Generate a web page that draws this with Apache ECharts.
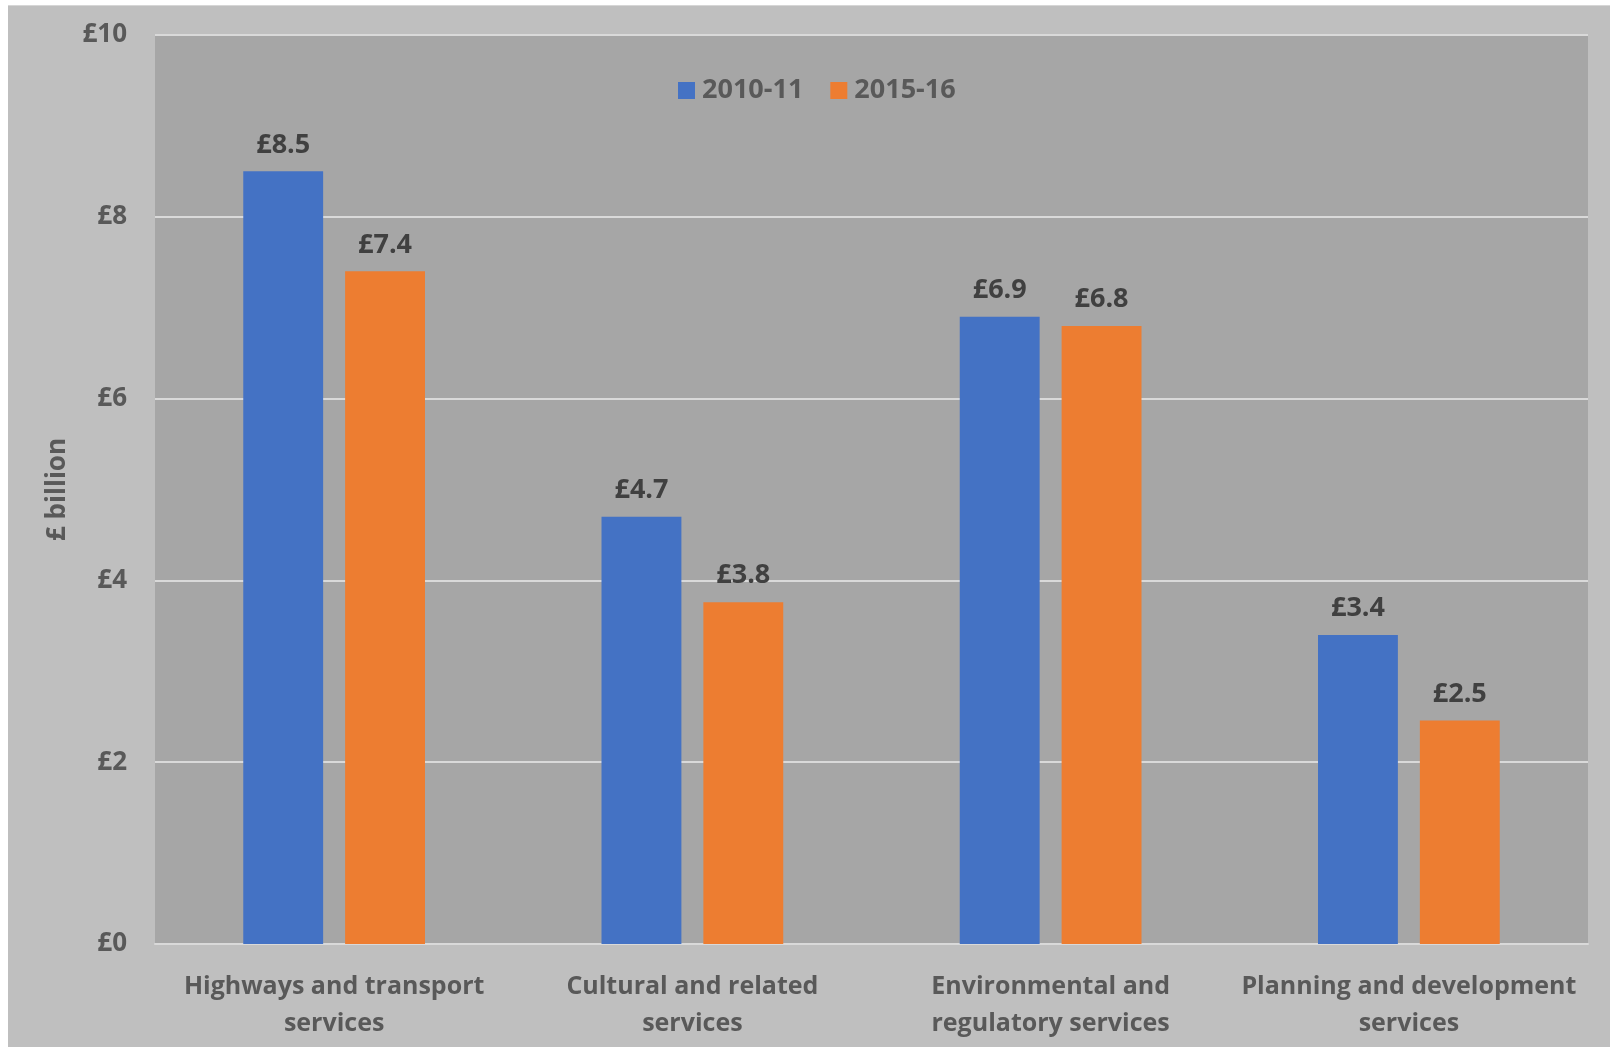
<!DOCTYPE html>
<html>
<head>
<meta charset="utf-8">
<script src="https://cdn.jsdelivr.net/npm/echarts@6/dist/echarts.min.js"></script>
<style>
html,body{margin:0;padding:0;background:#ffffff;width:1610px;height:1047px;overflow:hidden;}
#chart{position:absolute;left:8px;top:5px;width:1602px;height:1042px;background:#bfbfbf;border-top:1px solid #d6d6d6;box-sizing:border-box;}
</style>
</head>
<body>
<div id="chart"></div>
<script>
const categories = ["Highways and transport\nservices", "Cultural and related\nservices", "Environmental and\nregulatory services", "Planning and development\nservices"];
const seriesNames = ["2010-11", "2015-16"];
const values2010 = [8.5, 4.7, 6.9, 3.4];
const values2015 = [7.4, 3.76, 6.8, 2.46];
const yTicks = [0, 2, 4, 6, 8, 10];

const FONT = "Open Sans";
const chart = echarts.init(document.getElementById('chart'), null, {renderer: 'canvas'});
const labelStyle = {
  show: true, position: 'top', distance: 13,
  color: '#404040', fontFamily: FONT, fontWeight: 'bold', fontSize: 27,
  formatter: p => '£' + p.value.toFixed(1)
};
chart.setOption({
  backgroundColor: 'transparent',
  animation: false,
  color: ['#4472c4', '#ed7d31'],
  legend: {
    left: 665, top: 66,
    itemWidth: 17, itemHeight: 17, itemGap: 27,
    icon: 'rect',
    textStyle: {color: '#595959', fontFamily: FONT, fontWeight: 'bold', fontSize: 27, padding: [0,0,0,2]},
    data: seriesNames
  },
  grid: {
    left: 147, right: 22, top: 29, bottom: 103,
    show: true, backgroundColor: '#a6a6a6', borderWidth: 0, containLabel: false
  },
  xAxis: {
    type: 'category',
    data: categories,
    axisLine: {show: true, lineStyle: {color: '#d9d9d9', width: 2}},
    axisTick: {show: false},
    axisLabel: {
      color: '#595959', fontFamily: FONT, fontWeight: 'bold', fontSize: 25,
      lineHeight: 37, margin: 24, interval: 0
    }
  },
  yAxis: {
    type: 'value',
    min: 0, max: 10, interval: 2,
    name: '£ billion',
    nameLocation: 'middle',
    nameGap: 84,
    nameRotate: 90,
    nameTextStyle: {color: '#595959', fontFamily: FONT, fontWeight: 'bold', fontSize: 26},
    axisLine: {show: false},
    axisTick: {show: false},
    splitLine: {show: true, lineStyle: {color: '#d9d9d9', width: 2}},
    axisLabel: {
      color: '#595959', fontFamily: FONT, fontWeight: 'bold', fontSize: 26, margin: 28,
      formatter: v => yTicks.includes(v) ? '£' + v : ''
    }
  },
  series: [
    {name: seriesNames[0], type: 'bar', data: values2010, barWidth: '22.3%', barGap: '27.5%', label: labelStyle},
    {name: seriesNames[1], type: 'bar', data: values2015, barWidth: '22.3%', barGap: '27.5%', label: labelStyle}
  ]
});
</script>
</body>
</html>
